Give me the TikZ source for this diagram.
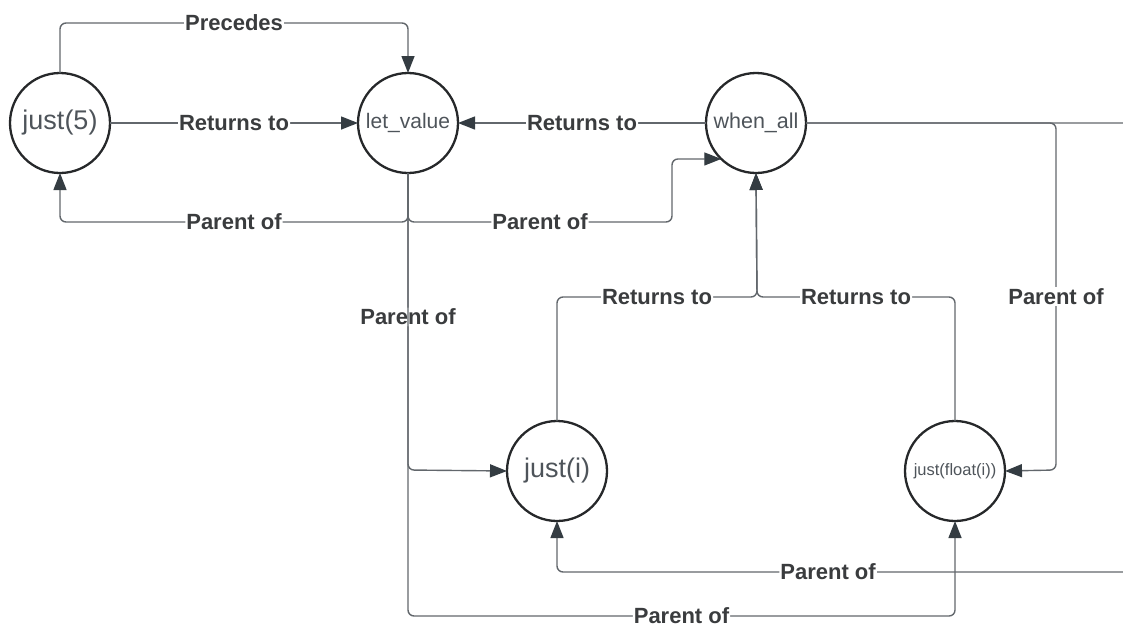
\documentclass[tikz,border=0pt]{standalone}
\usepackage{fontspec}
\setmainfont{Liberation Sans}
\usetikzlibrary{arrows.meta}
\definecolor{linec}{RGB}{98,103,108}
\definecolor{tipc}{RGB}{52,60,66}
\definecolor{circc}{RGB}{38,40,42}
\definecolor{ntext}{RGB}{78,84,90}
\definecolor{ltext}{RGB}{58,60,62}
\tikzset{
  proc/.style={circle, draw=circc, line width=2.3pt, minimum size=100pt, inner sep=0pt, outer sep=0pt, text=ntext},
  conn/.style={draw=linec, line width=1.4pt, rounded corners=6pt, -{Triangle[length=17pt,width=13pt,color=tipc]}},
  lbl/.style={fill=white, inner xsep=1pt, inner ysep=1.5pt, text height=15.8pt, text depth=0pt, text=ltext, font=\fontsize{22}{24}\selectfont\bfseries},
}
\begin{document}
\begin{tikzpicture}[x=1pt,y=-1pt]
\useasboundingbox (0,0) rectangle (1123,627);
\clip (0,0) rectangle (1123,627);
\node[proc, font=\fontsize{27}{30}\selectfont] (j5) at (60,123) {just(5)};
\node[proc, font=\fontsize{21}{24}\selectfont] (lv) at (408,123) {let\_value};
\node[proc, font=\fontsize{21.5}{24}\selectfont] (wa) at (756,123) {when\_all};
\node[proc, font=\fontsize{27}{30}\selectfont] (ji) at (557,471) {just(i)};
\node[proc, font=\fontsize{16.5}{19}\selectfont] (jf) at (955,471) {just(float(i))};
\coordinate (offA) at (1140,123);
\coordinate (offB) at (1140,572);

% just(5) -> let_value : Precedes
\draw[conn] (j5.north) -- (60,23) -- node[lbl]{Precedes} (408,23) -- (lv.north);
% just(5) -> let_value : Returns to
\draw[conn] (j5.east) -- node[lbl]{Returns to} (lv.west);
% let_value -> just(5) : Parent of
\draw[conn] (lv.south) -- (408,222) -- node[lbl]{Parent of} (60,222) -- (j5.south);
% let_value -> when_all : Parent of
\draw[conn] (lv.south) -- (408,222) -- node[lbl]{Parent of} (672,222) |- (wa.226);
% when_all -> let_value : Returns to
\draw[conn] (wa.west) -- node[lbl]{Returns to} (lv.east);
% let_value -> just(i) : Parent of
\draw[conn] (lv.south) -- node[lbl, pos=0.485]{Parent of} (408,470) -- (ji.west);
% let_value -> just(float(i)) : Parent of
\draw[conn] (lv.south) -- (408,616) -- node[lbl, inner ysep=0.3pt]{Parent of} (955,616) -- (jf.south);
% just(i) -> when_all : Returns to
\draw[conn] (ji.north) -- (557,297) -- node[lbl]{Returns to} (757,297) -- (wa.south);
% just(float(i)) -> when_all : Returns to
\draw[conn] (jf.north) -- (955,297) -- node[lbl]{Returns to} (757,297) -- (wa.south);
% when_all -> just(float(i)) : Parent of
\draw[conn] (wa.east) -- (1056,123) -- node[lbl]{Parent of} (1056,470) -- (jf.east);
% when_all -> just(i) : Parent of (routed beyond the right edge)
\draw[conn] (wa.east) -- (offA) -- (offB) -- node[lbl, pos=0.535]{Parent of} (557,572) -- (ji.south);
\end{tikzpicture}
\end{document}
